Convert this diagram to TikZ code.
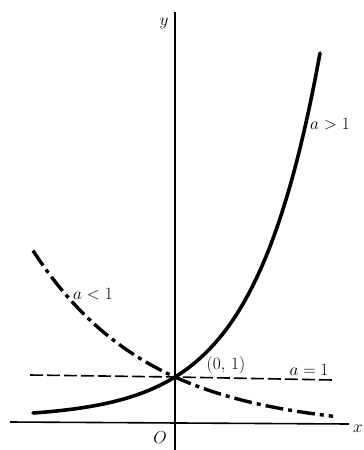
\documentclass[tikz,border=0pt]{standalone}
\begin{document}
\begin{tikzpicture}[x=1pt,y=-1pt,
  axisline/.style={line width=1.6pt},
  curvebold/.style={line width=3.6pt,line cap=round},
  dashcurve/.style={line width=3.4pt,dash pattern=on 18pt off 5pt on 4pt off 5pt},
  unitline/.style={line width=1.6pt,dash pattern=on 13pt off 4pt},
  lbl/.style={inner sep=0pt,font=\fontsize{18}{21}\selectfont}]
\useasboundingbox (0,0) rectangle (364,450);
% axes
\coordinate (yb) at (175,450);
\coordinate (yt) at (175,12);
\coordinate (xl) at (10,422);
\coordinate (xr) at (349,424);
\coordinate (P) at (175,377);
\draw[axisline] (yb) -- (yt);
\draw[axisline] (xl) -- (xr);
% a=1
\coordinate (hl) at (30,375);
\coordinate (hr) at (333,380);
\draw[unitline] (hl) -- (P) -- (hr);
% a>1
\draw[curvebold] plot[domain=33:320,samples=120,smooth]
  (\x,{425-48*(0.15+0.85*exp(0.0151*(\x-175)))});
% a<1
\draw[dashcurve] plot[domain=33:333,samples=120,smooth]
  (\x,{425-48*(-0.1+1.1*exp(-0.0086*(\x-175)))});
% labels
\node[lbl] (ylab) at (164,23) {$y$};
\node[lbl] (xlab) at (358,429) {$x$};
\node[lbl] (olab) at (160,438) {$O$};
\node[lbl] (gt) at (330,124) {$a>1$};
\node[lbl] (lt) at (93,294) {$a<1$};
\node[lbl] (pt) at (226,365) {$(0,\,1)$};
\node[lbl] (eq) at (309,370) {$a=1$};
\end{tikzpicture}
\end{document}
